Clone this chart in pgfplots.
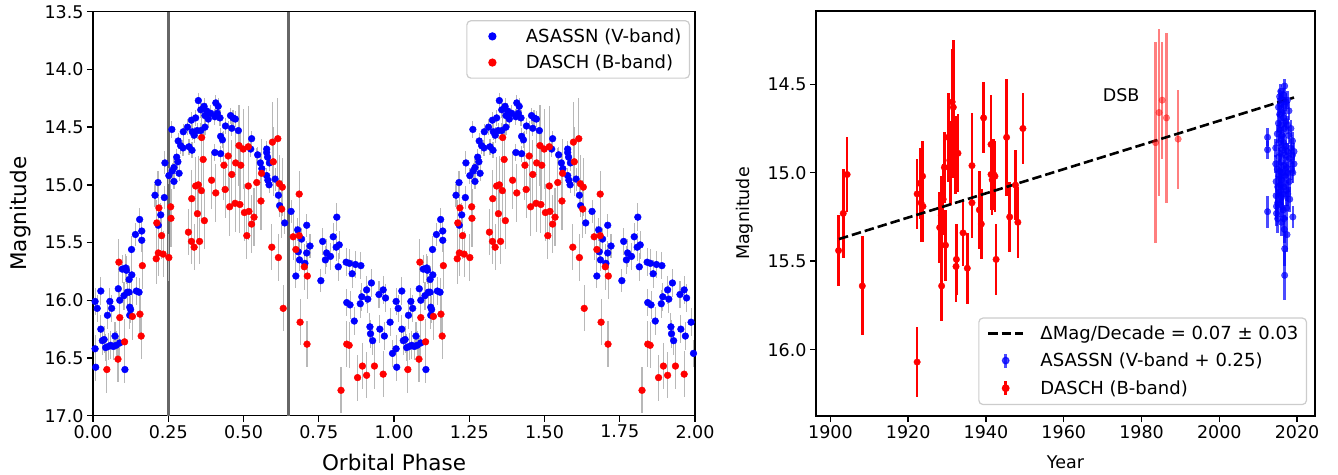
\documentclass[border=0pt]{standalone}
\usepackage{pgfplots}
\pgfplotsset{compat=1.18}
\usepackage{pgfplotstable}
\usepackage{fontspec}
\setmainfont{DejaVu Sans}
\definecolor{mblue}{rgb}{0,0,1}
\definecolor{mred}{rgb}{1,0,0}
\definecolor{ebar}{rgb}{0.72,0.72,0.72}
\definecolor{vline}{rgb}{0.4,0.4,0.4}

% ASASSN phase-folded (phase, mag, err)
\pgfplotstableread{
p m e
0.007 16.01 0.12
0.014 16.07 0.12
0.026 15.92 0.12
0.007 16.42 0.12
0.009 16.58 0.12
0.026 16.25 0.12
0.031 16.35 0.12
0.037 16.34 0.12
0.042 16.41 0.12
0.051 16.40 0.12
0.059 16.39 0.12
0.067 16.40 0.12
0.073 16.31 0.12
0.077 16.39 0.12
0.089 16.37 0.12
0.048 16.13 0.12
0.056 16.01 0.12
0.062 16.07 0.12
0.084 15.90 0.12
0.089 16.00 0.12
0.097 15.73 0.12
0.109 15.72 0.12
0.111 15.74 0.12
0.120 15.82 0.12
0.129 15.78 0.12
0.103 15.96 0.12
0.114 15.93 0.12
0.120 15.93 0.12
0.122 16.06 0.12
0.125 16.08 0.12
0.122 16.13 0.12
0.144 15.92 0.12
0.153 15.93 0.12
0.106 16.60 0.12
0.128 15.56 0.12
0.162 15.48 0.1
0.141 15.43 0.1
0.162 15.40 0.1
0.155 15.30 0.1
0.225 15.26 0.1
0.217 15.35 0.1
0.216 14.98 0.1
0.206 15.09 0.1
0.237 15.11 0.1
0.239 14.81 0.1
0.278 14.76 0.07
0.282 14.80 0.07
0.269 14.85 0.07
0.263 14.88 0.07
0.252 14.92 0.07
0.286 14.90 0.07
0.269 14.97 0.07
0.262 14.52 0.07
0.283 14.62 0.07
0.291 14.66 0.07
0.299 14.68 0.07
0.319 14.67 0.07
0.329 14.70 0.07
0.300 14.54 0.07
0.314 14.50 0.07
0.327 14.44 0.07
0.341 14.42 0.07
0.330 14.54 0.07
0.336 14.57 0.07
0.346 14.53 0.07
0.358 14.53 0.07
0.372 14.50 0.07
0.350 14.27 0.07
0.358 14.35 0.07
0.369 14.32 0.07
0.378 14.36 0.07
0.372 14.40 0.07
0.391 14.38 0.07
0.383 14.43 0.07
0.408 14.29 0.07
0.416 14.32 0.07
0.405 14.41 0.07
0.413 14.38 0.07
0.422 14.42 0.07
0.440 14.49 0.07
0.457 14.40 0.07
0.465 14.42 0.07
0.473 14.43 0.07
0.461 14.51 0.07
0.483 14.53 0.07
0.424 14.58 0.07
0.430 14.61 0.07
0.405 14.72 0.07
0.424 14.73 0.07
0.527 14.60 0.07
0.524 14.69 0.07
0.547 14.74 0.07
0.556 14.81 0.07
0.561 14.86 0.07
0.577 14.69 0.07
0.577 14.72 0.07
0.580 14.76 0.07
0.586 14.81 0.07
0.577 14.92 0.07
0.581 14.96 0.07
0.585 15.00 0.07
0.605 14.95 0.1
0.616 15.09 0.1
0.620 15.18 0.1
0.637 15.33 0.1
0.658 15.23 0.1
0.680 15.39 0.1
0.693 15.47 0.1
0.710 15.35 0.1
0.721 15.53 0.1
0.710 15.59 0.1
0.682 15.58 0.1
0.686 15.65 0.1
0.704 15.68 0.1
0.674 15.79 0.1
0.757 15.83 0.1
0.763 15.49 0.12
0.776 15.59 0.12
0.789 15.62 0.12
0.772 15.65 0.12
0.798 15.45 0.12
0.810 15.28 0.12
0.818 15.52 0.12
0.808 15.54 0.12
0.815 15.71 0.12
0.841 15.67 0.12
0.852 15.68 0.12
0.872 15.69 0.12
0.890 15.70 0.12
0.861 15.77 0.12
0.843 16.02 0.12
0.854 16.04 0.12
0.868 16.18 0.12
0.893 15.97 0.12
0.888 16.03 0.12
0.913 15.99 0.12
0.909 15.91 0.12
0.925 15.85 0.12
0.920 16.23 0.12
0.922 16.29 0.12
0.929 16.35 0.12
0.953 16.25 0.12
0.968 16.31 0.12
0.950 15.95 0.12
0.964 15.91 0.12
0.972 15.98 0.12
0.987 16.19 0.12
0.995 16.46 0.12
}\asL

% DASCH phase-folded (phase, mag, err)
\pgfplotstableread{
p m e
0.046 16.60 0.2
0.083 16.51 0.2
0.105 16.36 0.2
0.089 16.15 0.2
0.086 15.67 0.2
0.131 16.14 0.2
0.156 16.12 0.2
0.160 16.31 0.2
0.164 15.70 0.2
0.210 15.64 0.22
0.217 15.59 0.2
0.233 15.60 0.2
0.252 15.63 0.2
0.228 15.44 0.2
0.219 15.20 0.25
0.212 15.33 0.2
0.258 15.19 0.25
0.259 15.29 0.25
0.317 15.41 0.2
0.327 15.49 0.2
0.336 15.54 0.2
0.354 15.49 0.2
0.361 14.59 0.3
0.366 14.78 0.3
0.394 14.96 0.25
0.408 15.07 0.25
0.439 15.04 0.25
0.435 14.83 0.3
0.449 14.75 0.3
0.461 14.91 0.3
0.474 14.81 0.3
0.485 14.66 0.35
0.499 14.69 0.35
0.516 14.67 0.35
0.341 15.01 0.25
0.350 15.00 0.25
0.360 15.05 0.25
0.328 15.12 0.25
0.347 15.25 0.25
0.370 15.31 0.25
0.454 15.19 0.25
0.472 15.16 0.25
0.488 15.17 0.25
0.503 15.24 0.25
0.518 15.23 0.25
0.535 15.28 0.25
0.527 15.34 0.25
0.511 15.44 0.2
0.491 14.83 0.3
0.516 15.01 0.3
0.544 14.98 0.3
0.560 14.90 0.3
0.558 15.14 0.25
0.596 14.63 0.35
0.614 14.60 0.35
0.599 14.80 0.3
0.619 14.99 0.25
0.629 15.02 0.25
0.627 15.21 0.25
0.685 15.08 0.2
0.594 15.54 0.2
0.616 15.63 0.2
0.632 16.07 0.2
0.665 15.45 0.2
0.685 15.44 0.2
0.674 15.56 0.2
0.702 15.71 0.2
0.712 15.79 0.2
0.688 16.19 0.2
0.711 16.38 0.2
0.843 16.38 0.2
0.851 16.39 0.2
0.824 16.78 0.2
0.879 16.67 0.2
0.895 16.57 0.2
0.909 16.65 0.2
0.935 16.57 0.2
0.964 16.64 0.2
}\dasL

% DASCH light curve (year, mag, err)
\pgfplotstableread{
y m e
1902.1 15.44 0.20
1903.3 15.23 0.25
1904.3 15.01 0.21
1908.2 15.64 0.28
1922.3 16.07 0.20
1922.3 15.12 0.20
1923.0 15.06 0.20
1923.7 15.02 0.20
1923.3 15.17 0.22
1923.8 15.19 0.20
1928.1 15.31 0.20
1928.6 15.64 0.20
1928.5 15.24 0.22
1929.0 15.15 0.20
1929.3 14.97 0.20
1929.6 15.41 0.20
1930.3 14.80 0.25
1930.7 14.93 0.22
1930.9 14.98 0.20
1931.3 14.60 0.30
1931.6 14.63 0.38
1931.7 14.78 0.25
1932.2 14.90 0.22
1932.3 15.53 0.20
1932.4 15.49 0.20
1932.8 14.89 0.22
1934.1 15.34 0.19
1935.2 15.54 0.20
1936.4 14.96 0.30
1936.4 15.17 0.20
1938.3 15.21 0.22
1938.8 15.29 0.20
1939.4 14.69 0.20
1941.3 14.84 0.28
1941.3 15.01 0.20
1941.6 15.04 0.20
1942.0 15.01 0.20
1942.3 15.02 0.20
1942.6 15.49 0.20
1945.3 14.80 0.33
1946.1 15.25 0.20
1947.6 15.07 0.20
1948.2 15.28 0.20
1949.5 14.75 0.20
}\dasY

\pgfplotstableread{
y m e
1983.6 14.83 0.57
1984.5 14.66 0.47
1985.3 14.59 0.33
1986.4 14.69 0.48
1989.4 14.81 0.28
}\dasYb

% ASASSN light curve (year, mag+0.25, err)
\pgfplotstableread{
y m e
2012.4 14.80 0.05
2012.4 14.87 0.05
2012.4 15.22 0.09
2014.5 14.86 0.05
2014.5 14.95 0.05
2014.6 15.05 0.06
2014.6 15.13 0.06
2014.7 15.19 0.07
2014.7 15.23 0.07
2014.9 14.78 0.05
2014.9 14.98 0.05
2015.0 15.08 0.06
2015.0 15.17 0.07
2015.0 15.26 0.08
2015.2 14.63 0.05
2015.2 14.72 0.05
2015.3 14.83 0.05
2015.3 14.91 0.05
2015.3 15.02 0.06
2015.4 15.11 0.06
2015.5 14.57 0.04
2015.5 14.67 0.05
2015.6 14.76 0.05
2015.6 14.89 0.05
2015.6 14.99 0.06
2015.7 15.07 0.06
2015.7 15.18 0.07
2015.8 14.54 0.04
2015.8 14.61 0.05
2015.9 14.73 0.05
2015.9 14.81 0.05
2015.9 14.94 0.05
2016.0 15.04 0.06
2016.0 15.14 0.07
2016.0 15.28 0.08
2016.2 14.59 0.05
2016.2 14.66 0.05
2016.2 14.79 0.05
2016.3 14.87 0.05
2016.3 15.00 0.06
2016.3 15.12 0.06
2016.4 15.21 0.07
2016.5 14.56 0.04
2016.5 14.69 0.05
2016.5 14.83 0.05
2016.6 14.96 0.06
2016.6 15.08 0.06
2016.6 15.26 0.08
2016.7 15.32 0.08
2016.8 14.51 0.04
2016.8 14.62 0.05
2016.8 14.75 0.05
2016.9 14.90 0.05
2016.9 15.02 0.06
2016.8 15.43 0.10
2016.8 15.58 0.14
2017.1 14.60 0.05
2017.1 14.71 0.05
2017.1 14.85 0.05
2017.2 14.97 0.06
2017.2 15.10 0.06
2017.3 15.20 0.07
2017.4 15.35 0.10
2017.5 14.59 0.05
2017.5 14.73 0.05
2017.5 14.88 0.05
2017.6 15.00 0.06
2017.6 15.12 0.07
2017.9 14.65 0.05
2017.9 14.79 0.05
2018.0 14.92 0.05
2018.0 15.05 0.06
2018.1 15.15 0.07
2018.4 14.75 0.05
2018.4 14.86 0.05
2018.5 14.98 0.06
2018.8 14.82 0.05
2018.8 14.90 0.05
2018.9 15.00 0.06
2018.9 15.25 0.06
2019.2 14.88 0.05
2019.2 14.95 0.06
}\asY

\pgfplotsset{
  common/.style={
    scale only axis, y dir=reverse,
    tick pos=left, tick align=outside, major tick length=6pt,
    every tick/.style={black, line width=1.4pt},
    axis line style={line width=1.4pt},
    /pgf/number format/assume math mode=true,
    tick label style={font=\fontsize{17.5}{21}\selectfont},
    legend cell align=left,
    legend style={draw=black!20, rounded corners=4pt, line width=1.2pt, fill=white,
      font=\fontsize{18}{21.5}\selectfont, inner xsep=8pt, inner ysep=8pt,
      row sep=11pt, nodes={inner sep=0pt},
      /tikz/every odd column/.append style={column sep=16pt}},
  },
  errL/.style={forget plot, draw=none, mark=none,
    error bars/.cd, y dir=both, y explicit, error mark=none,
    error bar style={line width=1.1pt, ebar}},
  bmark/.style={forget plot, only marks, mark=*, mark size=3.4pt,
    mark options={draw=mblue, fill=mblue, line width=0.4pt}},
  rmark/.style={forget plot, only marks, mark=*, mark size=3.4pt,
    mark options={draw=mred, fill=mred, line width=0.4pt}},
}

\begin{document}
\begin{tikzpicture}
\path (0pt,0pt) rectangle (1338pt,474pt);
% ---------------- left panel ----------------
\begin{axis}[common,
  at={(93pt,58.3pt)}, anchor=south west, width=602pt, height=404pt,
  xmin=0, xmax=2, ymin=13.5, ymax=17,
  xtick={0,0.25,0.5,0.75,1,1.25,1.5,1.75,2},
  ytick={13.5,14,14.5,15,15.5,16,16.5,17},
  xticklabel style={/pgf/number format/.cd, fixed, fixed zerofill, precision=2},
  yticklabel style={/pgf/number format/.cd, fixed, fixed zerofill, precision=1},
  xlabel={Orbital Phase}, ylabel={Magnitude},
  label style={font=\fontsize{21.5}{26}\selectfont},
  xlabel style={at={(axis description cs:0.5,-0.117)}, anchor=center},
  ylabel style={at={(axis description cs:-0.121,0.5)}, anchor=center},
  legend style={at={(0.9917,0.979)}, anchor=north east},
]
\addplot[forget plot, vline, line width=2.6pt] coordinates {(0.25,13.5) (0.25,17)};
\addplot[forget plot, vline, line width=2.6pt] coordinates {(0.65,13.5) (0.65,17)};
\addplot[errL] table[x=p, y=m, y error=e]{\asL};
\addplot[errL] table[x expr=\thisrow{p}+1, y=m, y error=e]{\asL};
\addplot[errL] table[x=p, y=m, y error=e]{\dasL};
\addplot[errL] table[x expr=\thisrow{p}+1, y=m, y error=e]{\dasL};
\addplot[bmark] table[x=p, y=m]{\asL};
\addplot[bmark] table[x expr=\thisrow{p}+1, y=m]{\asL};
\addplot[rmark] table[x=p, y=m]{\dasL};
\addplot[rmark] table[x expr=\thisrow{p}+1, y=m]{\dasL};
\addlegendimage{legend image code/.code={\path[draw=none, fill=none] (0pt,-6pt) rectangle (35pt,6pt); \fill[mblue] (17.5pt,0pt) circle (3.5pt);}}
\addlegendentry{ASASSN (V-band)}
\addlegendimage{legend image code/.code={\path[draw=none, fill=none] (0pt,-6pt) rectangle (35pt,6pt); \fill[mred] (17.5pt,0pt) circle (3.5pt);}}
\addlegendentry{DASCH (B-band)}
\end{axis}
% ---------------- right panel ----------------
\begin{axis}[common,
  at={(816pt,58pt)}, anchor=south west, width=499pt, height=405pt,
  xmin=1896.3, xmax=2024.6, ymin=14.086, ymax=16.375,
  xtick={1900,1920,1940,1960,1980,2000,2020},
  ytick={14.5,15,15.5,16},
  xticklabel style={/pgf/number format/.cd, 1000 sep={}},
  yticklabel style={/pgf/number format/.cd, fixed, fixed zerofill, precision=1},
  xlabel={Year}, ylabel={Magnitude},
  label style={font=\fontsize{17.5}{21}\selectfont},
  xlabel style={at={(axis description cs:0.5,-0.114)}, anchor=center},
  ylabel style={at={(axis description cs:-0.142,0.5)}, anchor=center},
  legend style={at={(0.984,0.027)}, anchor=south east},
]
\addplot[forget plot, draw=none, only marks, mark=*, mark size=3.3pt, mark options={draw=mred, fill=mred, line width=0.3pt},
  error bars/.cd, y dir=both, y explicit, error mark=none,
  error bar style={line width=2.6pt, mred}] table[x=y, y=m, y error=e]{\dasY};
\addplot[forget plot, draw=none, only marks, mark=*, mark size=3.3pt, mark options={draw=mred, fill=mred, opacity=0.5, line width=0.3pt},
  error bars/.cd, y dir=both, y explicit, error mark=none,
  error bar style={line width=2.6pt, mred, opacity=0.5}] table[x=y, y=m, y error=e]{\dasYb};
\addplot[forget plot, draw=none, only marks, mark=*, mark size=3.3pt, mark options={draw=mblue, fill=mblue, opacity=0.7, line width=0.3pt},
  error bars/.cd, y dir=both, y explicit, error mark=none,
  error bar style={line width=2.6pt, mblue, opacity=0.7}] table[x=y, y=m, y error=e]{\asY};
\addplot[forget plot, black, line width=2.6pt, dash pattern=on 9.5pt off 4pt] coordinates {(1902.2,15.375) (2019.2,14.575)};
\node[anchor=base west, inner sep=0pt, font=\fontsize{17.5}{21}\selectfont] at (axis cs:1970,14.6) {DSB};
\addlegendimage{legend image code/.code={\path[draw=none, fill=none] (0pt,-6pt) rectangle (35pt,6pt); \draw[black, line width=2.6pt, dash pattern=on 9.5pt off 4pt, rounded corners=0pt] (0pt,0pt) -- (35pt,0pt);}}
\addlegendentry{ΔMag/Decade = 0.07 ± 0.03}
\addlegendimage{legend image code/.code={\path[draw=none, fill=none] (0pt,-6pt) rectangle (35pt,6pt); \draw[mblue, opacity=0.7, line width=2.6pt] (17.5pt,-7pt) -- (17.5pt,7pt); \fill[mblue, opacity=0.7] (17.5pt,0pt) circle (3.3pt);}}
\addlegendentry{ASASSN (V-band + 0.25)}
\addlegendimage{legend image code/.code={\path[draw=none, fill=none] (0pt,-6pt) rectangle (35pt,6pt); \draw[mred, line width=2.6pt] (17.5pt,-7pt) -- (17.5pt,7pt); \fill[mred] (17.5pt,0pt) circle (3.3pt);}}
\addlegendentry{DASCH (B-band)}
\end{axis}
\end{tikzpicture}
\end{document}
